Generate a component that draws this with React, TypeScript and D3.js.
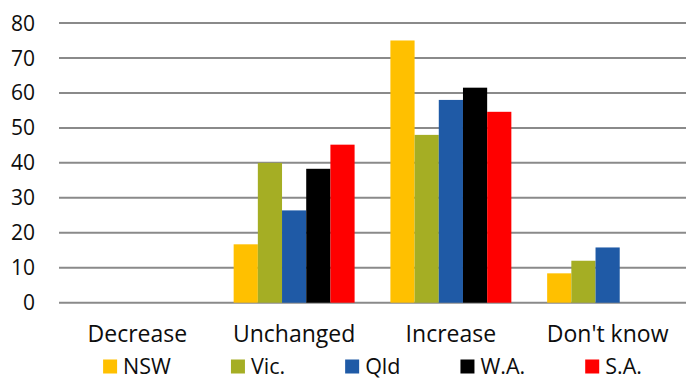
import React, { useEffect, useRef } from "react";
import * as d3 from "d3";

// Categories on the x axis
const categories = ["Decrease", "Unchanged", "Increase", "Don't know"];

// Series names and their values per category (percent)
const seriesNames = ["NSW", "Vic.", "Qld", "W.A.", "S.A."];
const nswValues = [0, 16.7, 75, 8.4];
const vicValues = [0, 40, 48, 12];
const qldValues = [0, 26.4, 58, 15.8];
const waValues = [0, 38.3, 61.5, 0];
const saValues = [0, 45.2, 54.6, 0];
const seriesColors = ["#FFC000", "#A5AE24", "#1F5AA6", "#000000", "#FF0000"];

// Y axis ticks
const yTicks = [0, 10, 20, 30, 40, 50, 60, 70, 80];

const WIDTH = 696;
const HEIGHT = 378;
const FONT = "'Open Sans', 'Noto Sans', sans-serif";

export default function App() {
  const ref = useRef<SVGSVGElement | null>(null);

  useEffect(() => {
    const svg = d3.select(ref.current);
    svg.selectAll("*").remove();

    const seriesValues = [nswValues, vicValues, qldValues, waValues, saValues];
    const left = 59;
    const right = 686;
    const top = 23;
    const bottom = 302.7;

    const y = d3.scaleLinear().domain([0, 80]).range([bottom, top]);
    const x0 = d3.scaleBand<string>().domain(categories).range([left, right]).padding(0);
    const x1 = d3
      .scaleBand<string>()
      .domain(seriesNames)
      .range([0, x0.bandwidth()])
      .paddingInner(0)
      .paddingOuter(0.74);

    // Horizontal gridlines
    svg
      .append("g")
      .selectAll("line")
      .data(yTicks)
      .join("line")
      .attr("x1", left)
      .attr("x2", right)
      .attr("y1", (d) => y(d))
      .attr("y2", (d) => y(d))
      .attr("stroke", "#8a8a8a")
      .attr("stroke-width", 2);

    // Y tick labels
    svg
      .append("g")
      .selectAll("text")
      .data(yTicks)
      .join("text")
      .attr("x", 35)
      .attr("y", (d) => y(d))
      .attr("dy", "0.36em")
      .attr("text-anchor", "end")
      .attr("font-family", FONT)
      .attr("font-size", 21)
      .attr("fill", "#0d0d0d")
      .text((d) => String(d));

    // Bars
    const groups = svg
      .append("g")
      .selectAll("g")
      .data(seriesNames)
      .join("g")
      .attr("fill", (_, i) => seriesColors[i]);

    groups
      .selectAll("rect")
      .data((name, i) =>
        categories.map((c, j) => ({ name, cat: c, value: seriesValues[i][j] }))
      )
      .join("rect")
      .attr("x", (d) => (x0(d.cat) as number) + (x1(d.name) as number))
      .attr("width", x1.bandwidth())
      .attr("y", (d) => y(d.value))
      .attr("height", (d) => y(0) - y(d.value));

    // Category labels
    svg
      .append("g")
      .selectAll("text")
      .data(categories)
      .join("text")
      .attr("x", (d) => (x0(d) as number) + x0.bandwidth() / 2)
      .attr("y", 342)
      .attr("text-anchor", "middle")
      .attr("font-family", FONT)
      .attr("font-size", 23)
      .attr("fill", "#0d0d0d")
      .text((d) => d);

    // Legend, laid out from measured text widths and centred under the plot
    const legend = svg.append("g");
    const sq = 14;
    const gap = 6;
    const spacing = 60;
    const items = seriesNames.map((name, i) => {
      const g = legend.append("g");
      g.append("rect")
        .attr("width", sq)
        .attr("height", sq)
        .attr("y", 359.5)
        .attr("fill", seriesColors[i]);
      const t = g
        .append("text")
        .attr("x", sq + gap)
        .attr("y", 373.5)
        .attr("font-family", FONT)
        .attr("font-size", 21.5)
        .attr("fill", "#0d0d0d")
        .text(name);
      const w = (t.node() as SVGTextElement).getComputedTextLength();
      return { g, w: sq + gap + w };
    });
    const total = d3.sum(items, (d) => d.w) + spacing * (items.length - 1);
    let cx = (left + right) / 2 - total / 2;
    items.forEach((it) => {
      it.g.attr("transform", `translate(${cx},0)`);
      cx += it.w + spacing;
    });
  }, []);

  return (
    <svg
      ref={ref}
      width={WIDTH}
      height={HEIGHT}
      style={{ position: "absolute", left: 0, top: 0, background: "#fff" }}
    />
  );
}
